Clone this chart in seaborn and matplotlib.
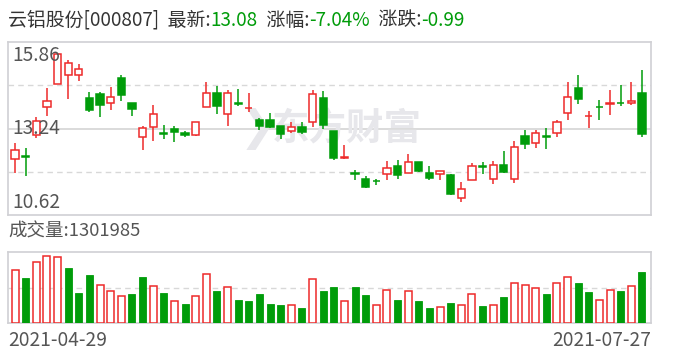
import matplotlib
matplotlib.use("Agg")
import matplotlib.pyplot as plt
import seaborn as sns
import numpy as np
import pandas as pd

# ---------------- data ----------------
stock_name = "云铝股份[000807]"
latest = "13.08"
pct_change = "-7.04%"
abs_change = "-0.99"
volume_label = "1301985"
date_first = "2021-04-29"
date_last = "2021-07-27"
y_ticks = [10.62, 13.24, 15.86]

opens = [12.31, 12.40, 13.03, 13.89, 14.59, 14.86, 14.86, 14.16, 14.29, 14.01,
         14.77, 14.02, 12.98, 13.28, 13.09, 13.21, 13.10, 13.03, 13.90, 14.32,
         13.67, 14.02, 13.85, 13.50, 13.50, 13.32, 13.15, 13.28, 13.43, 14.17,
         13.17, 12.34, 11.88, 11.70, 11.65, 11.87, 12.11, 11.88, 12.22, 11.88,
         11.87, 11.83, 11.13, 11.68, 12.09, 11.71, 12.12, 11.70, 13.01, 12.80,
         13.00, 13.11, 13.70, 14.46, 13.61, 13.89, 13.99, 14.02, 14.02, 14.31]
highs = [12.79, 12.64, 13.58, 14.46, 15.51, 15.32, 15.20, 14.35, 14.35, 14.49,
         14.87, 14.02, 13.32, 13.96, 13.35, 13.32, 13.16, 13.43, 14.65, 14.53,
         14.41, 14.43, 14.31, 13.56, 13.72, 13.32, 13.44, 13.44, 14.40, 14.39,
         13.17, 12.75, 11.99, 11.80, 11.70, 12.26, 12.29, 12.47, 12.22, 12.11,
         11.95, 11.86, 11.63, 12.21, 12.24, 12.26, 12.56, 12.86, 13.20, 13.20,
         13.25, 13.50, 14.66, 14.87, 13.78, 14.09, 14.41, 14.56, 14.65, 15.02]
lows = [11.90, 11.81, 12.94, 13.62, 14.59, 14.14, 14.67, 13.73, 13.60, 13.79,
        14.06, 13.63, 12.59, 12.85, 12.92, 12.84, 12.98, 13.00, 13.90, 13.68,
        13.31, 13.91, 13.73, 13.18, 13.25, 12.93, 13.09, 13.08, 13.30, 13.23,
        12.30, 12.31, 11.67, 11.43, 11.52, 11.67, 11.72, 11.88, 11.93, 11.68,
        11.67, 11.23, 11.00, 11.68, 11.85, 11.55, 11.88, 11.60, 12.63, 12.66,
        12.63, 12.98, 13.50, 13.97, 13.27, 13.50, 13.66, 13.91, 13.95, 12.98]
closes = [12.59, 12.38, 13.46, 14.07, 15.50, 15.22, 15.04, 13.79, 13.94, 14.19,
          14.24, 13.82, 13.25, 13.67, 13.07, 13.13, 13.03, 13.43, 14.32, 13.91,
          14.32, 13.99, 13.87, 13.33, 13.28, 13.07, 13.28, 13.14, 14.30, 13.35,
          12.34, 12.39, 11.87, 11.48, 11.64, 12.04, 11.84, 12.22, 11.95, 11.75,
          11.95, 11.26, 11.40, 12.11, 12.07, 12.12, 11.93, 12.67, 12.78, 13.09,
          12.99, 13.43, 14.19, 14.12, 13.62, 13.88, 14.01, 14.00, 14.07, 13.08]
volumes = [1352700, 1149700, 1555500, 1707700, 1682300, 1403400, 777800, 1225800, 963800, 820000,
           684800, 744000, 1175100, 938400, 777800, 558000, 490300, 684800, 1242700, 820000,
           913000, 591800, 566400, 744000, 490300, 465000, 456500, 388900, 1115900, 820000,
           921500, 566400, 921500, 718600, 456500, 837000, 591800, 811600, 566400, 388900,
           405800, 515700, 456500, 735500, 439600, 456500, 667900, 1022900, 963800, 887700,
           744000, 1022900, 1166700, 1022900, 794700, 583300, 837000, 820000, 938400, 1301985]

RED = "#ee2a2a"
GREEN = "#009c0a"
DARK = "#333333"
GRAY = "#555555"
FRAME = "#d0d0d4"
FS = 13.8

n = len(closes)
df = pd.DataFrame({"i": np.arange(n), "open": opens, "high": highs, "low": lows,
                   "close": closes, "volume": volumes})
df["candle_up"] = df["close"] >= df["open"]
prev = df["close"].shift(1)
df["vol_up"] = (df["close"] >= prev) | prev.isna()

sns.set_theme(style="white")
plt.rcParams["font.family"] = ["Noto Sans CJK SC", "DejaVu Sans"]

W, H = 688, 360
fig = plt.figure(figsize=(W / 100, H / 100), dpi=100)
fig.patch.set_facecolor("white")

def ax_rect(x0, y0, x1, y1):
    return [x0 / W, 1 - y1 / H, (x1 - x0) / W, (y1 - y0) / H]

ax = fig.add_axes(ax_rect(8, 42, 651, 215))
axv = fig.add_axes(ax_rect(8, 252, 651, 323))

xlim = (-0.66, n - 1 + 0.85)
ymin, ymax = y_ticks[0], y_ticks[-1]

for a in (ax, axv):
    a.set_facecolor("white")
    for s in a.spines.values():
        s.set_color(FRAME)
        s.set_linewidth(1.2)
    a.set_xticks([])
    a.set_yticks([])
    a.set_xlim(*xlim)

# ---- price panel ----
ax.set_ylim(ymin, ymax)
q1 = ymin + (ymax - ymin) * 0.25
q3 = ymin + (ymax - ymin) * 0.75
ax.axhline(q1, color="#d8d8d8", lw=1.0, ls=(0, (4, 3)), zorder=0)
ax.axhline(q3, color="#d8d8d8", lw=1.0, ls=(0, (4, 3)), zorder=0)
ax.axhline(y_ticks[1], color="#d4d4d4", lw=1.2, zorder=0)

# watermark
ax.text(0.41, 0.5, "东方财富", transform=ax.transAxes, fontsize=27, fontweight="bold",
        color="#e7e7eb", ha="left", va="center", zorder=0.5)
ax.text(0.388, 0.5, "❯", transform=ax.transAxes, fontsize=30, fontweight="bold",
        color="#e7e7eb", ha="center", va="center", zorder=0.5, family="DejaVu Sans")

bw = 0.68
for _, r in df.iterrows():
    col = RED if r["candle_up"] else GREEN
    x = r["i"]
    ax.vlines(x, r["low"], r["high"], color=col, lw=1.1, zorder=2)
    lo = min(r["open"], r["close"])
    hgt = max(abs(r["close"] - r["open"]), 0.015)
    face = "white" if r["candle_up"] else col
    ax.bar(x, hgt, bottom=lo, width=bw, facecolor=face, edgecolor=col,
           linewidth=1.1, zorder=3)

# y labels
ax.text(4 / 643, 0.985, f"{y_ticks[2]:.2f}", transform=ax.transAxes, ha="left", va="top",
        fontsize=FS, color=GRAY)
ax.text(4 / 643, 0.5, f"{y_ticks[1]:.2f}", transform=ax.transAxes, ha="left", va="center",
        fontsize=FS, color=GRAY)
ax.text(4 / 643, 0.01, f"{y_ticks[0]:.2f}", transform=ax.transAxes, ha="left", va="bottom",
        fontsize=FS, color=GRAY)

# ---- volume panel ----
vmax = volumes[-1] * 215 / 154
palette = [RED if u else GREEN for u in df["vol_up"]]
sns.barplot(data=df, x="i", y="volume", hue="i", palette=palette, legend=False,
            width=0.66, ax=axv, saturation=1, zorder=3)
for p, up in zip(axv.patches, df["vol_up"]):
    if up:
        p.set_facecolor("white")
        p.set_edgecolor(RED)
        p.set_linewidth(1.1)
    else:
        p.set_edgecolor(GREEN)
        p.set_linewidth(0.6)
axv.set_xlim(*xlim)
axv.set_ylim(0, vmax)
axv.axhline(vmax / 2, color="#d8d8d8", lw=1.0, ls=(0, (4, 3)), zorder=0)
axv.set_xlabel("")
axv.set_ylabel("")
axv.set_xticks([])
axv.set_yticks([])

fig.text(8 / W, 1 - 232 / H, "成交量:" + volume_label, ha="left", va="center",
         fontsize=13.3, color=GRAY)
fig.text(8 / W, 1 - 340 / H, date_first, ha="left", va="center", fontsize=FS, color=GRAY)
fig.text(651 / W, 1 - 340 / H, date_last, ha="right", va="center", fontsize=FS, color=GRAY)

# ---- title line ----
pieces = [(stock_name + "  最新:", DARK), (latest, GREEN), ("  涨幅:", DARK),
          (pct_change, GREEN), ("  涨跌:", DARK), (abs_change, GREEN)]
fig.canvas.draw()
renderer = fig.canvas.get_renderer()
xpix = 8
for txt, col in pieces:
    t = fig.text(xpix / W, 1 - 20 / H, txt, ha="left", va="center", fontsize=13.6, color=col)
    bb = t.get_window_extent(renderer=renderer)
    xpix += bb.width

fig.savefig("out.png", dpi=100, facecolor="white")
